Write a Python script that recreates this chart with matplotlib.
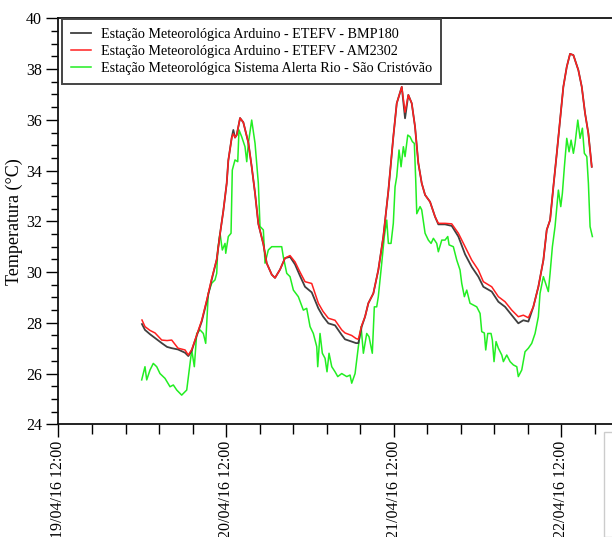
import numpy as np
import matplotlib
matplotlib.use("Agg")
import matplotlib.pyplot as plt
from matplotlib.patches import Rectangle

plt.rcParams['font.family'] = ['Liberation Serif', 'DejaVu Serif']

# horas desde 19/04/16 12:00
hora_ard = [11.96, 12.39, 13.11, 13.83, 14.79, 15.55, 16.22, 17.12, 18.13, 18.60,
            19.09, 19.56, 20.52, 21.24, 21.95, 22.67, 23.14, 23.61, 24.10, 24.33,
            24.82, 25.05, 25.29, 25.53, 26.01, 26.48, 27.20, 27.68, 28.16, 28.63,
            29.35, 29.83, 30.55, 31.02, 31.74, 32.45, 33.17, 33.89, 34.60, 35.32,
            36.28, 37.23, 37.90, 38.66, 39.62, 40.58, 41.05, 42.01, 42.63, 42.96,
            43.44, 43.92, 44.39, 45.11, 45.82, 46.54, 47.26, 47.97, 48.46, 49.18,
            49.65, 50.12, 50.61, 51.08, 51.55, 52.04, 52.52, 53.23, 53.95, 54.42,
            55.38, 56.34, 57.29, 58.25, 59.21, 60.15, 60.87, 62.07, 63.02, 63.98,
            64.94, 65.88, 66.60, 67.32, 68.03, 68.75, 69.47, 69.95, 70.43, 70.90,
            71.39, 71.86, 72.33, 72.82, 73.29, 73.77, 74.48, 74.97, 75.44, 75.91,
            76.40]

temp_bmp180 = [27.95, 27.72, 27.55, 27.40, 27.20, 27.05, 27.00, 26.95, 26.82, 26.69,
               26.90, 27.30, 28.05, 28.85, 29.70, 30.50, 31.50, 32.40, 33.50, 34.40,
               35.30, 35.60, 35.30, 35.40, 36.07, 35.90, 35.10, 34.15, 33.10, 31.90,
               31.10, 30.35, 29.90, 29.77, 30.10, 30.55, 30.60, 30.30, 29.85, 29.42,
               29.20, 28.57, 28.25, 27.98, 27.90, 27.52, 27.35, 27.26, 27.20, 27.20,
               27.85, 28.24, 28.77, 29.16, 30.08, 31.40, 33.20, 35.33, 36.65, 37.30,
               36.06, 36.98, 36.65, 35.73, 34.30, 33.50, 33.04, 32.77, 32.18, 31.88,
               31.88, 31.82, 31.40, 30.70, 30.20, 29.82, 29.42, 29.23, 28.83, 28.63,
               28.30, 27.98, 28.10, 28.05, 28.63, 29.42, 30.47, 31.66, 32.05, 33.36,
               34.68, 35.99, 37.30, 38.09, 38.60, 38.55, 37.96, 37.30, 36.26, 35.47,
               34.15]

temp_am2302 = [28.11, 27.85, 27.70, 27.60, 27.32, 27.30, 27.32, 27.00, 26.93, 26.73,
               26.95, 27.32, 28.10, 28.90, 29.75, 30.50, 31.50, 32.40, 33.50, 34.40,
               35.30, 35.45, 35.30, 35.40, 36.07, 35.90, 35.10, 34.15, 33.10, 31.90,
               31.10, 30.35, 29.90, 29.77, 30.10, 30.55, 30.65, 30.40, 30.00, 29.62,
               29.55, 28.77, 28.45, 28.18, 28.10, 27.72, 27.60, 27.50, 27.38, 27.35,
               27.90, 28.24, 28.77, 29.16, 30.08, 31.40, 33.20, 35.33, 36.65, 37.30,
               36.30, 36.98, 36.65, 35.73, 34.30, 33.50, 33.04, 32.77, 32.18, 31.92,
               31.92, 31.90, 31.53, 31.00, 30.47, 30.08, 29.62, 29.42, 29.03, 28.83,
               28.50, 28.24, 28.30, 28.20, 28.63, 29.42, 30.47, 31.66, 32.05, 33.36,
               34.68, 35.99, 37.30, 38.09, 38.60, 38.55, 37.96, 37.30, 36.26, 35.47,
               34.15]

hora_rio = [11.92, 12.39, 12.64, 13.11, 13.58, 14.07, 14.54, 15.26, 15.98, 16.45,
            16.94, 17.65, 18.37, 18.84, 19.09, 19.46, 19.80, 20.28, 20.75, 21.09,
            21.46, 21.95, 22.42, 22.67, 22.81, 23.14, 23.47, 23.86, 23.96, 24.33,
            24.72, 24.90, 25.29, 25.68, 25.86, 26.25, 26.72, 26.97, 27.20, 27.68,
            28.16, 28.63, 28.87, 29.35, 29.59, 30.06, 30.55, 31.27, 31.98, 32.21,
            32.70, 33.17, 33.65, 34.36, 35.08, 35.56, 36.04, 36.51, 37.00, 37.14,
            37.47, 37.80, 38.19, 38.47, 38.76, 39.15, 39.62, 40.01, 40.58, 41.30,
            41.77, 42.01, 42.49, 42.96, 43.35, 43.68, 44.16, 44.49, 44.96, 45.25,
            45.59, 45.82, 46.31, 46.68, 47.03, 47.26, 47.64, 47.97, 48.22, 48.46,
            48.79, 49.08, 49.41, 49.65, 50.04, 50.37, 50.70, 50.98, 51.18, 51.33,
            51.80, 52.04, 52.52, 52.99, 53.38, 53.71, 54.19, 54.42, 54.91, 55.38,
            55.77, 55.96, 56.57, 57.06, 57.53, 57.77, 58.15, 58.49, 58.96, 59.92,
            60.40, 60.64, 61.01, 61.21, 61.50, 61.97, 62.16, 62.40, 62.69, 63.02,
            63.51, 63.74, 64.22, 64.70, 65.17, 65.66, 65.88, 66.37, 66.84, 67.32,
            67.80, 68.28, 68.75, 68.99, 69.47, 69.95, 70.18, 70.43, 70.76, 71.14,
            71.62, 71.96, 72.19, 72.48, 72.82, 73.15, 73.44, 73.77, 74.01, 74.40,
            74.73, 75.06, 75.34, 75.69, 75.92, 76.16, 76.49]

temp_rio = [25.75, 26.27, 25.75, 26.14, 26.40, 26.27, 26.00, 25.81, 25.48, 25.55,
            25.35, 25.15, 25.35, 26.40, 26.93, 26.27, 27.58, 27.72, 27.58, 27.19,
            29.16, 29.56, 29.69, 29.95, 30.87, 31.53, 30.87, 31.13, 30.74, 31.40,
            31.53, 34.02, 34.42, 34.35, 35.60, 35.33, 34.94, 34.35, 35.07, 35.99,
            35.07, 33.50, 31.80, 31.66, 30.35, 30.87, 31.00, 31.00, 31.00, 30.60,
            29.95, 29.82, 29.29, 29.03, 28.50, 28.57, 27.85, 27.58, 27.06, 26.27,
            27.58, 26.80, 26.60, 26.07, 26.80, 26.27, 26.07, 25.88, 26.00, 25.88,
            25.94, 25.62, 26.00, 27.06, 27.85, 26.80, 27.58, 27.45, 26.80, 28.63,
            28.63, 29.03, 30.35, 31.40, 32.05, 31.13, 31.13, 31.92, 33.36, 33.76,
            34.81, 34.15, 34.94, 34.55, 35.40, 35.33, 35.14, 35.07, 33.63, 32.30,
            32.58, 32.45, 31.53, 31.26, 31.13, 31.33, 31.13, 30.80, 31.26, 31.26,
            31.40, 31.07, 31.00, 30.47, 30.08, 29.56, 29.03, 29.29, 28.77, 28.63,
            28.37, 27.65, 27.60, 26.93, 27.58, 27.58, 27.32, 26.47, 27.26, 27.00,
            26.73, 26.47, 26.73, 26.47, 26.34, 26.27, 25.88, 26.14, 26.86, 27.00,
            27.19, 27.58, 28.24, 29.16, 29.82, 29.42, 29.23, 29.95, 31.00, 31.79,
            33.23, 32.58, 33.10, 34.15, 35.27, 34.74, 35.20, 34.68, 35.07, 35.99,
            35.27, 35.67, 34.68, 34.55, 33.50, 31.79, 31.40]

rotulos_x = ['19/04/16 12:00', '20/04/16 12:00', '21/04/16 12:00', '22/04/16 12:00']
ticks_x = [0, 24, 48, 72]

fig = plt.figure(figsize=(6.12, 5.37), dpi=100)
ax = fig.add_axes([58.5 / 612, 112.7 / 537, 0.958, 0.756])

l3, = ax.plot(hora_rio, temp_rio, color='#22ee22', lw=1.1,
              label='Estação Meteorológica Sistema Alerta Rio - São Cristóvão')
l1, = ax.plot(hora_ard, temp_bmp180, color='#404040', lw=1.3,
              label='Estação Meteorológica Arduino - ETEFV - BMP180')
l2, = ax.plot(hora_ard, temp_am2302, color='#ff2020', lw=1.1,
              label='Estação Meteorológica Arduino - ETEFV - AM2302')

ax.set_xlim(0, 84)
ax.set_ylim(24, 40)
ax.set_yticks(np.arange(24, 41, 2))
ax.set_yticks(np.arange(24, 40.01, 0.5), minor=True)
ax.set_xticks(ticks_x)
ax.set_xticklabels(rotulos_x, rotation=90)
ax.set_xticks(np.arange(0, 84, 4.8), minor=True)

ax.tick_params(axis='both', which='major', direction='out', length=9, width=1,
               labelsize=11.5, pad=3)
ax.tick_params(axis='both', which='minor', direction='out', length=5, width=1)
ax.tick_params(axis='x', which='minor', length=7)

for s in ax.spines.values():
    s.set_linewidth(1.3)
    s.set_color('#111111')

ax.set_ylabel('Temperatura (°C)', fontsize=13)
ax.yaxis.set_label_coords(-0.06, 0.5)

leg = ax.legend(handles=[l1, l2, l3], loc='upper left',
                bbox_to_anchor=(0.006, 0.998), borderaxespad=0,
                fontsize=10.2, fancybox=False, framealpha=1,
                edgecolor='#444444', handlelength=1.45, handletextpad=0.7,
                labelspacing=0.3, borderpad=0.6)
leg.get_frame().set_linewidth(1.4)

fig.patches.append(Rectangle((604 / 612, 0), 0.05, 105 / 537,
                             transform=fig.transFigure, fill=False,
                             edgecolor='#cccccc', lw=1))

fig.savefig('out.png', dpi=100)
